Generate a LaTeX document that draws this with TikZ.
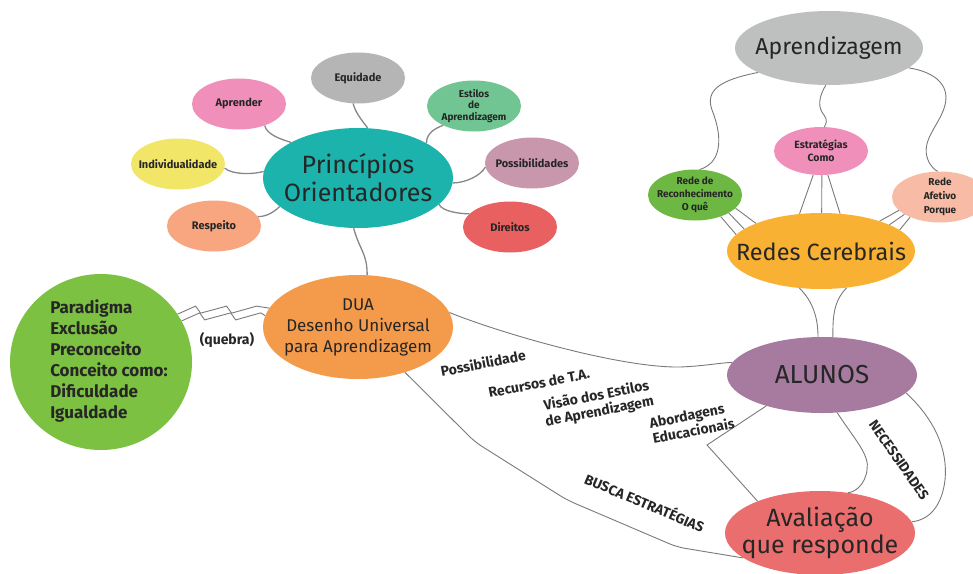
\documentclass[tikz,border=0pt]{standalone}
\usepackage{fontspec}
\setmainfont{Fira Sans}
\usetikzlibrary{shapes.geometric}

\definecolor{inkc}{HTML}{262626}
\definecolor{linkc}{HTML}{7A7A7A}
\definecolor{tealc}{HTML}{1BB3AC}
\definecolor{grayc}{HTML}{B5B5B5}
\definecolor{pinkc}{HTML}{F090BA}
\definecolor{mintc}{HTML}{70C592}
\definecolor{yellowc}{HTML}{F1E667}
\definecolor{mauvec}{HTML}{C997AB}
\definecolor{peachc}{HTML}{F7A680}
\definecolor{redc}{HTML}{E86060}
\definecolor{orangec}{HTML}{F39A4B}
\definecolor{greenc}{HTML}{7CC142}
\definecolor{lightgrayc}{HTML}{BEBFBF}
\definecolor{leafc}{HTML}{6DB843}
\definecolor{blushc}{HTML}{F8BBA5}
\definecolor{amberc}{HTML}{F8B133}
\definecolor{plumc}{HTML}{A67B9F}
\definecolor{coralc}{HTML}{EB6E6F}

\begin{document}
\begin{tikzpicture}[x=1pt, y=-1pt,
    bubble/.style={ellipse, inner sep=-60pt, align=center, text=inkc},
    sat/.style={bubble, minimum width=94pt, minimum height=51pt,
        font=\bfseries\fontsize{11}{12}\selectfont},
    link/.style={draw=linkc, line width=0.9pt},
    stem/.style={draw=linkc!90, line width=1.3pt},
    note/.style={font=\bfseries\fontsize{14}{16}\selectfont, text=inkc, inner sep=1pt}]

    % Frame
    \useasboundingbox (0,0) rectangle (973,573);
    \fill[white] (0,0) rectangle (973,573);
    \clip (0,0) rectangle (973,573);

    % Principles and satellites
    \node[bubble, fill=tealc, minimum width=190pt, minimum height=100pt,
        font=\fontsize{25}{28}\selectfont] (hub) at (358,178) {Princípios\\Orientadores};
    \node[sat, fill=grayc] (equidade) at (358,78) {Equidade};
    \node[sat, fill=pinkc] (aprender) at (239,104) {Aprender};
    \node[sat, fill=mintc, font=\bfseries\fontsize{10}{11.5}\selectfont] (estilos) at (474,106) {Estilos\\de\\Aprendizagem};
    \node[sat, fill=yellowc] (indiv) at (178,164) {Individualidade};
    \node[sat, fill=mauvec] (possib) at (532,163) {Possibilidades};
    \node[sat, fill=peachc] (respeito) at (214,226) {Respeito};
    \node[sat, fill=redc] (direitos) at (510,227) {Direitos};

    % DUA and the old paradigm
    \node[bubble, fill=orangec, minimum width=190pt, minimum height=104pt,
        font=\fontsize{17}{21}\selectfont] (dua) at (358,327) {DUA\\Desenho Universal\\para Aprendizagem};
    \node[bubble, fill=greenc, minimum width=182pt, minimum height=176pt,
        font=\bfseries\fontsize{17}{21}\selectfont] (paradigma) at (101,362)
        {\hspace*{16pt}\begin{tabular}{@{}l@{}}Paradigma\\Exclusão\\Preconceito\\Conceito como:\\Dificuldade\\Igualdade\end{tabular}};

    % Learning and brain networks
    \node[bubble, fill=lightgrayc, minimum width=188pt, minimum height=74pt,
        font=\fontsize{23}{27}\selectfont] (aprendizagem) at (829,48) {Aprendizagem};
    \node[sat, fill=pinkc, minimum height=48pt, font=\bfseries\fontsize{10.5}{13}\selectfont] (estrategias) at (821,151) {Estratégias\\Como};
    \node[sat, fill=leafc, font=\bfseries\fontsize{10}{13}\selectfont] (reco) at (695,195) {Rede de\\Reconhecimento\\O quê};
    \node[sat, fill=blushc, minimum width=96pt, font=\bfseries\fontsize{10}{14}\selectfont] (afetivo) at (940,197) {Rede\\Afetivo\\Porque};
    \node[bubble, fill=amberc, minimum width=188pt, minimum height=76pt,
        font=\fontsize{23.5}{27}\selectfont] (redes) at (821,251) {Redes Cerebrais};

    % Students and evaluation
    \node[bubble, fill=plumc, minimum width=190pt, minimum height=76pt,
        font=\fontsize{26}{28}\selectfont] (alunos) at (822,375) {ALUNOS};
    \node[bubble, fill=coralc, minimum width=190pt, minimum height=84pt,
        font=\fontsize{25}{27}\selectfont] (avaliacao) at (820,533) {Avaliação\\que responde};

    % Wavy stems round the principles
    \draw[stem] (equidade.259) .. controls +(3,10) and +(-6,-8) .. (hub.79);
    \draw[stem] (aprender.-40) .. controls +(2,9) and +(-10,-3) .. (hub.152);
    \draw[stem] (estilos.212) .. controls +(-8,3) and +(0,-10) .. (hub.27);
    \draw[stem] (indiv.-5) .. controls +(8,7) and +(-10,3) .. (hub.176);
    \draw[stem] (possib.185) .. controls +(-5,9) and +(12,0) .. (hub.-3);
    \draw[stem] (respeito.12) .. controls +(8,0) and +(-6,6) .. (hub.200);
    \draw[stem] (direitos.162) .. controls +(-10,0) and +(3,7) .. (hub.-18);
    \draw[stem] (hub.265) .. controls +(6,22) and +(0,-22) .. (dua.80);

    % Break with the old paradigm
    \draw[link] (paradigma.32) --++(18,-8) --++(5,7) --++(26,-7) --++(5,7) --++(25,-7) -- (dua.168);
    \draw[link] (paradigma.27) --++(18,-8) --++(5,7) --++(26,-7) --++(5,7) --++(25,-7) -- (dua.173);
    \node[note] (quebra) at (227,340) {(quebra)};

    % Learning to the networks
    \draw[link] (aprendizagem.199) .. controls (720,80) and (705,90) .. (712,110)
        .. controls (720,130) and (722,150) .. (712,162) .. controls (707,167) and (702,169) .. (reco.80);
    \draw[link] (aprendizagem.265) .. controls (818,98) and (818,108) .. (824,115)
        .. controls (828,120) and (826,124) .. (estrategias.82);
    \draw[link] (aprendizagem.-14) .. controls (935,72) and (950,85) .. (945,105)
        .. controls (940,125) and (920,140) .. (928,160) .. controls (931,167) and (935,170) .. (afetivo.95);

    % Networks to brain networks
    \draw[link] (reco.-40) -- (redes.169);
    \draw[link] (reco.-28) -- (redes.164);
    \draw[link] (reco.-18) -- (redes.157);
    \draw[link] (estrategias.-108) -- (redes.120);
    \draw[link] (estrategias.-88) -- (redes.89);
    \draw[link] (estrategias.-74) -- (redes.63);
    \draw[link] (afetivo.198) -- (redes.27);
    \draw[link] (afetivo.206) -- (redes.21);
    \draw[link] (afetivo.214) -- (redes.15);
    \draw[link] (redes.240) .. controls +(14,14) and +(0,-18) .. (alunos.96);
    \draw[link] (redes.-55) .. controls +(-14,14) and +(0,-18) .. (alunos.74);

    % DUA to students and evaluation
    \draw[link] (dua.9) .. controls (500,333) and (620,368) .. (680,367)
        .. controls (705,366) and (718,363) .. (alunos.172);
    \draw[link, rounded corners=8pt] (dua.-44) -- (475,442) -- (567,500) -- (677,547) -- (avaliacao.198);

    % Students to evaluation
    \draw[link] (alunos.209) -- (707,445) -- (avaliacao.153);
    \draw[link] (alunos.-68) .. controls (855,440) and (870,455) .. (867,470)
        .. controls (865,485) and (855,492) .. (avaliacao.55);
    \draw[link] (alunos.-12) .. controls (935,420) and (948,450) .. (945,480)
        .. controls (942,505) and (930,520) .. (avaliacao.7);

    % Labels along the links
    \node[note, rotate=11] (possibilidade) at (483,363) {Possibilidade};
    \node[note, rotate=11] (recursos) at (539,383) {Recursos de T.A.};
    \node[note, rotate=11, align=center] (visao) at (598,404) {Visão dos Estilos\\de Aprendizagem};
    \node[note, rotate=11, align=left] (abordagens) at (692,423) {Abordagens\\Educacionais};
    \node[note, rotate=-23] (busca) at (645,502) {BUSCA ESTRATÉGIAS};
    \node[note, rotate=-55] (necessidades) at (899,460) {NECESSIDADES};
\end{tikzpicture}
\end{document}
